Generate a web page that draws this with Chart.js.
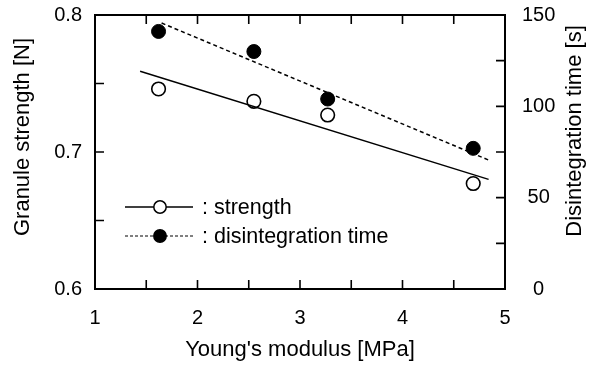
<!DOCTYPE html>
<html><head>
<meta charset="utf-8">
<title>Granule strength and disintegration time</title>
<script src="https://cdn.jsdelivr.net/npm/chart.js"></script>
<style>
  html, body { margin: 0; padding: 0; background: #fff; }
  #wrap { width: 599px; height: 365px; position: relative; }
</style>
</head>
<body>
<div id="wrap"><canvas id="chart"></canvas></div>
<script>
  // measured points (Young's modulus in MPa)
  const modulus = [1.62, 2.55, 3.27, 4.69];
  const strength = [0.746, 0.737, 0.727, 0.677];      // N
  const disintegration = [141, 130, 104, 77];        // s

  // fitted lines, ends
  const strengthFitX = [1.44, 4.84];
  const strengthFitY = [0.759, 0.680];
  const timeFitX = [1.65, 4.84];
  const timeFitY = [145.6, 70.6];

  // labelled ticks
  const xLabels = [1, 2, 3, 4, 5];
  const leftLabels = ['0.6', '0.7', '0.8'];
  const rightLabels = [0, 50, 100, 150];

  const FONT = "'Liberation Sans', Arial, sans-serif";
  const toPoints = (xs, ys) => xs.map((x, i) => ({ x: x, y: ys[i] }));
  const near = (a, b) => Math.abs(a - b) < 1e-6;

  // fixed axis sizes, no extra padding from the tick labels
  const fixWidth = w => s => { s.width = w; s.paddingTop = 0; s.paddingBottom = 0; };

  // box, inward ticks, rotated y titles and the hand-made legend
  const frame = {
    id: 'frame',
    afterDraw(chart) {
      const ctx = chart.ctx;
      const a = chart.chartArea;
      const sx = chart.scales.x, sy = chart.scales.y, sy1 = chart.scales.y1;
      ctx.save();
      ctx.strokeStyle = '#000';
      ctx.lineWidth = 2;
      ctx.strokeRect(a.left, a.top, a.right - a.left, a.bottom - a.top);

      const tl = 9;
      ctx.lineWidth = 1.6;
      ctx.beginPath();
      sx.ticks.forEach(t => {
        const px = sx.getPixelForValue(t.value);
        ctx.moveTo(px, a.bottom); ctx.lineTo(px, a.bottom - tl);
        ctx.moveTo(px, a.top); ctx.lineTo(px, a.top + tl);
      });
      sy.ticks.forEach(t => {
        const py = sy.getPixelForValue(t.value);
        ctx.moveTo(a.left, py); ctx.lineTo(a.left + tl, py);
      });
      sy1.ticks.forEach(t => {
        const py = sy1.getPixelForValue(t.value);
        ctx.moveTo(a.right, py); ctx.lineTo(a.right - tl, py);
      });
      ctx.stroke();

      // y titles
      ctx.fillStyle = '#000';
      ctx.font = '22px ' + FONT;
      ctx.textAlign = 'center';
      ctx.textBaseline = 'middle';
      ctx.save();
      ctx.translate(23, 137);
      ctx.rotate(-Math.PI / 2);
      ctx.fillText('Granule strength [N]', 0, 0);
      ctx.restore();
      ctx.save();
      ctx.translate(575, 131);
      ctx.rotate(-Math.PI / 2);
      ctx.fillText('Disintegration time [s]', 0, 0);
      ctx.restore();

      // legend
      const lx0 = 125, lx1 = 193, mx = 160, tx = 202;
      const rows = [
        { y: 207, dash: [], lw: 1.5, fill: '#fff', label: ': strength' },
        { y: 236, dash: [3, 2], lw: 1, fill: '#000', label: ': disintegration time' }
      ];
      ctx.font = '21.5px ' + FONT;
      ctx.textAlign = 'left';
      rows.forEach(r => {
        ctx.setLineDash(r.dash);
        ctx.lineWidth = r.lw;
        ctx.beginPath();
        ctx.moveTo(lx0, r.y); ctx.lineTo(lx1, r.y);
        ctx.stroke();
        ctx.setLineDash([]);
        ctx.beginPath();
        ctx.arc(mx, r.y, 6.2, 0, Math.PI * 2);
        ctx.fillStyle = r.fill;
        ctx.fill();
        ctx.lineWidth = 1.5;
        ctx.stroke();
        ctx.fillStyle = '#000';
        ctx.fillText(r.label, tx, r.y + 1);
      });
      ctx.restore();
    }
  };

  new Chart(document.getElementById('chart'), {
    type: 'scatter',
    data: {
      datasets: [
        {
          label: 'strength fit',
          data: toPoints(strengthFitX, strengthFitY),
          showLine: true,
          borderColor: '#000',
          borderWidth: 1.5,
          pointRadius: 0,
          yAxisID: 'y'
        },
        {
          label: 'disintegration fit',
          data: toPoints(timeFitX, timeFitY),
          showLine: true,
          borderColor: '#000',
          borderWidth: 1.5,
          borderDash: [4, 3],
          pointRadius: 0,
          yAxisID: 'y1'
        },
        {
          label: 'strength',
          data: toPoints(modulus, strength),
          pointRadius: 6.8,
          pointBackgroundColor: '#fff',
          pointBorderColor: '#000',
          pointBorderWidth: 1.6,
          yAxisID: 'y'
        },
        {
          label: 'disintegration time',
          data: toPoints(modulus, disintegration),
          pointRadius: 7,
          pointBackgroundColor: '#000',
          pointBorderColor: '#000',
          pointBorderWidth: 1,
          yAxisID: 'y1'
        }
      ]
    },
    options: {
      responsive: true,
      maintainAspectRatio: false,
      animation: false,
      events: [],
      layout: { padding: { top: 15, left: 0, right: 0, bottom: 0 } },
      plugins: { legend: { display: false }, tooltip: { enabled: false } },
      scales: {
        x: {
          type: 'linear',
          min: 1, max: 5,
          grid: { display: false, drawTicks: false },
          border: { display: false },
          afterFit: s => { s.height = 76; s.paddingLeft = 0; s.paddingRight = 0; },
          ticks: {
            stepSize: 0.5,
            autoSkip: false,
            maxRotation: 0,
            padding: 17,
            color: '#000',
            font: { family: FONT, size: 20 },
            callback: v => xLabels.some(l => near(l, v)) ? String(v) : ''
          },
          title: {
            display: true,
            text: "Young's modulus [MPa]",
            color: '#000',
            font: { family: FONT, size: 22 },
            padding: { top: 0, bottom: 2 }
          }
        },
        y: {
          position: 'left',
          min: 0.6, max: 0.8,
          grid: { display: false, drawTicks: false },
          border: { display: false },
          afterFit: fixWidth(95),
          ticks: {
            stepSize: 0.05,
            autoSkip: false,
            padding: 13,
            color: '#000',
            font: { family: FONT, size: 20 },
            callback: v => leftLabels.find(l => near(parseFloat(l), v)) || ''
          }
        },
        y1: {
          position: 'right',
          min: 0, max: 150,
          grid: { display: false, drawTicks: false },
          border: { display: false },
          afterFit: fixWidth(94),
          ticks: {
            stepSize: 25,
            autoSkip: false,
            padding: 17,
            crossAlign: 'center',
            color: '#000',
            font: { family: FONT, size: 20 },
            callback: v => rightLabels.includes(v) ? String(v) : ''
          }
        }
      }
    },
    plugins: [frame]
  });
</script>
</body></html>
